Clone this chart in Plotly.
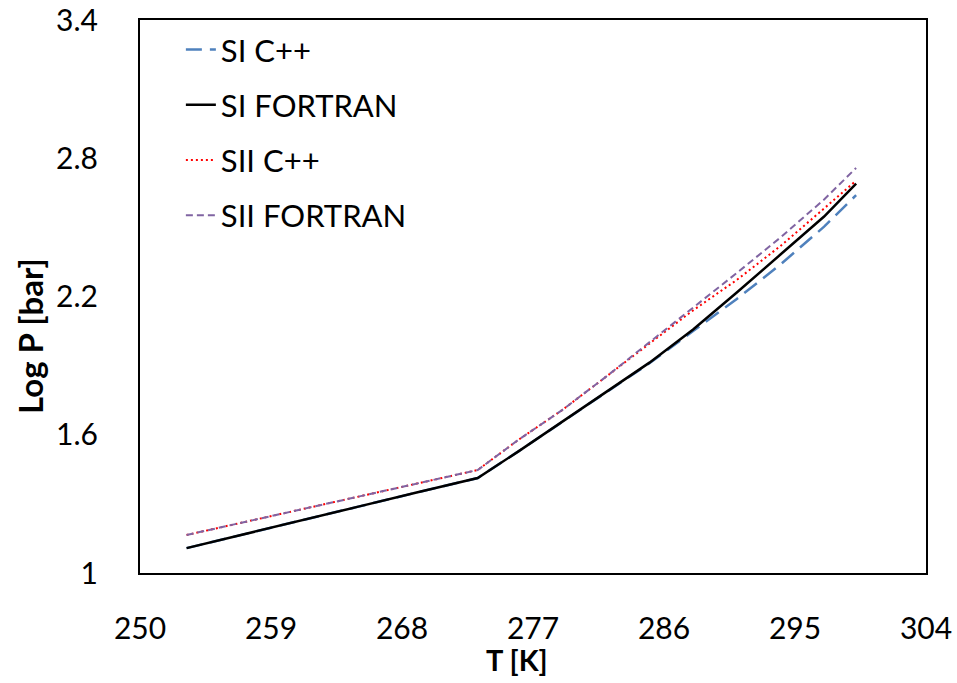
import plotly.graph_objects as go

T = [253.2, 257, 261, 265, 269, 273.2, 276, 279, 282, 285, 288, 291, 294, 297, 299.2]
si_cpp = [1.108, 1.167, 1.227, 1.288, 1.349, 1.412, 1.528, 1.656, 1.783, 1.910, 2.050, 2.189, 2.339, 2.503, 2.640]
si_fortran = [1.108, 1.167, 1.227, 1.288, 1.349, 1.412, 1.528, 1.656, 1.783, 1.913, 2.057, 2.217, 2.382, 2.547, 2.690]
sii_cpp = [1.165, 1.219, 1.275, 1.332, 1.388, 1.447, 1.578, 1.707, 1.851, 1.995, 2.140, 2.272, 2.419, 2.582, 2.703]
sii_fortran = [1.165, 1.219, 1.275, 1.332, 1.388, 1.447, 1.578, 1.707, 1.851, 2.000, 2.150, 2.302, 2.456, 2.621, 2.758]

x_ticks = [250, 259, 268, 277, 286, 295, 304]
y_ticks = [1, 1.6, 2.2, 2.8, 3.4]

FONT = "Lato, 'Open Sans', sans-serif"

fig = go.Figure()
fig.add_trace(go.Scatter(x=T, y=si_cpp, mode="lines", name="SI C++", legendgroup="a",
                         line=dict(color="#4F81BD", width=2.5, dash="16px,8px")))
fig.add_trace(go.Scatter(x=T, y=si_fortran, mode="lines", name="SI FORTRAN", legendgroup="b",
                         line=dict(color="#000000", width=2.5)))
fig.add_trace(go.Scatter(x=T, y=sii_cpp, mode="lines", name="SII C++", legendgroup="c",
                         line=dict(color="#FF0000", width=2, dash="2px,3px")))
fig.add_trace(go.Scatter(x=T, y=sii_fortran, mode="lines", name="SII FORTRAN", legendgroup="d",
                         line=dict(color="#8064A2", width=2, dash="7px,4px")))

fig.update_layout(
    width=957, height=683,
    margin=dict(l=140, r=31, t=20, b=110),
    paper_bgcolor="white", plot_bgcolor="white",
    font=dict(family=FONT, size=30, color="#000000"),
    showlegend=True,
    legend=dict(x=0.052, y=0.995, xanchor="left", yanchor="top",
                bgcolor="rgba(255,255,255,0)", font=dict(size=31),
                tracegroupgap=12, itemwidth=30),
    xaxis=dict(range=[250, 304], tickvals=x_ticks, ticktext=[str(v) for v in x_ticks],
               showgrid=False, zeroline=False, showline=True, mirror=True, automargin=False,
               linecolor="black", linewidth=2, ticks="", ticklabelstandoff=28),
    yaxis=dict(range=[1, 3.4], tickvals=y_ticks, ticktext=["1", "1.6", "2.2", "2.8", "3.4"],
               showgrid=False, zeroline=False, showline=True, mirror=True, automargin=False,
               linecolor="black", linewidth=2, ticks="", ticklabelstandoff=34),
    annotations=[
        dict(text="<b>T [K]</b>", xref="paper", yref="paper", x=0.48, y=-0.157,
             xanchor="center", yanchor="middle", showarrow=False, font=dict(size=29)),
        dict(text="<b>Log P [bar]</b>", xref="paper", yref="paper", x=-0.14, y=0.4286,
             xanchor="center", yanchor="middle", showarrow=False, textangle=-90,
             font=dict(size=33)),
    ],
)

fig.write_html("out.html")
